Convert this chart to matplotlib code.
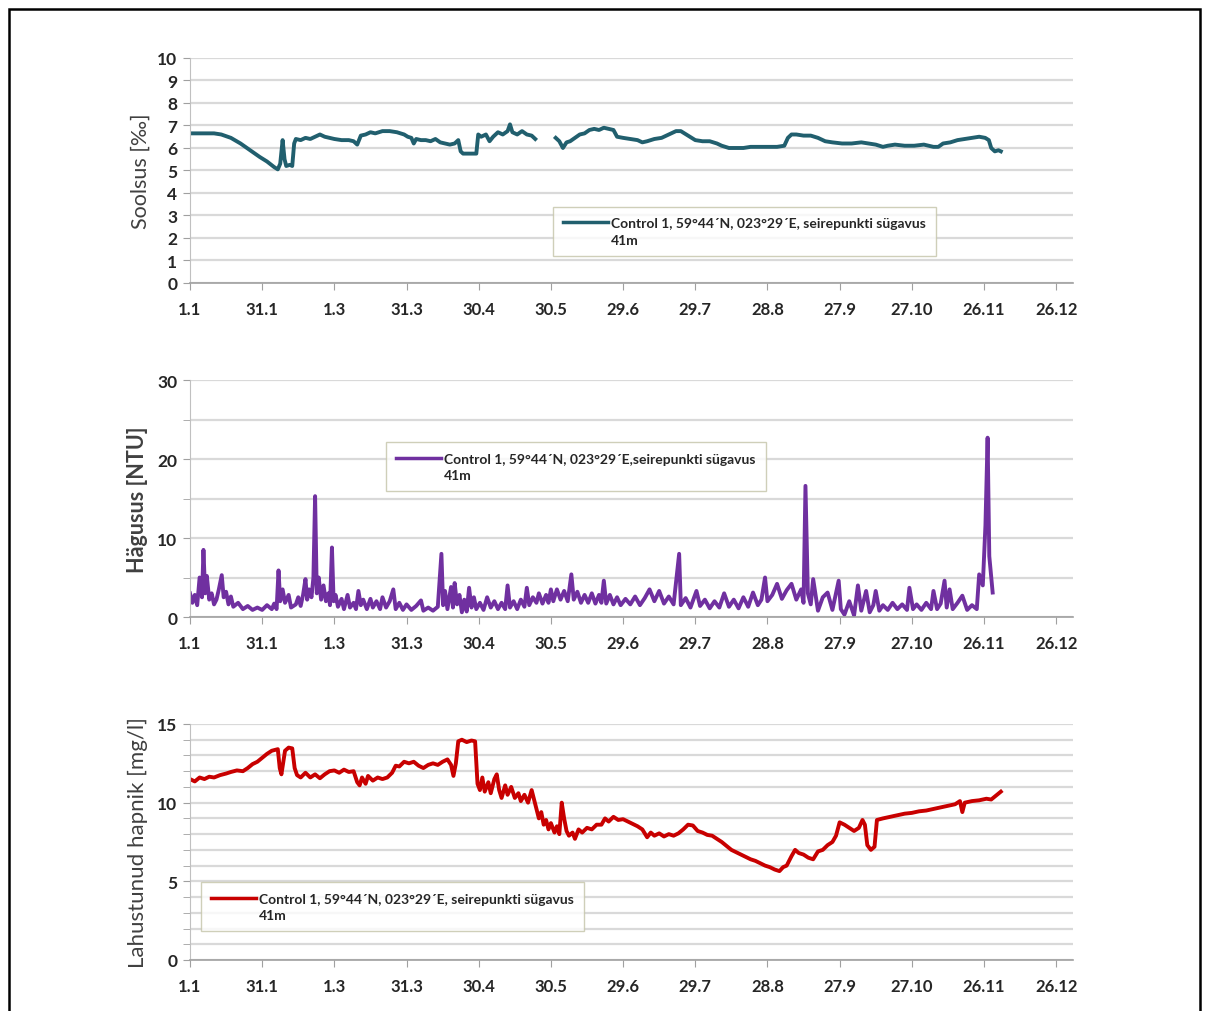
import numpy as np
import matplotlib
matplotlib.use("Agg")
from matplotlib import pyplot as plt
from matplotlib.lines import Line2D
from matplotlib.patches import Rectangle
from matplotlib.ticker import MultipleLocator

plt.rcParams["font.family"] = ["Lato", "DejaVu Sans"]

# x axis: days since 1 January, tick every 30 days
TICK_DAYS = list(range(0, 361, 30))
TICK_LABELS = ["1.1", "31.1", "1.3", "31.3", "30.4", "30.5", "29.6",
               "29.7", "28.8", "27.9", "27.10", "26.11", "26.12"]
LEGEND_LINE1 = "Control 1, 59°44´N, 023°29´E, seirepunkti sügavus"
LEGEND_LINE1_B = "Control 1, 59°44´N, 023°29´E,seirepunkti sügavus"
LEGEND_LINE2 = "41m"

# salinity (‰) as (day, value); nan marks the data gap in May
salinity = [
    (0, 6.65), (5, 6.65), (10, 6.65), (13, 6.6), (17, 6.45), (21, 6.2),
    (25, 5.9), (29, 5.6), (32, 5.4), (35, 5.15), (36.5, 5.05), (37.5, 5.3),
    (38.5, 6.35), (39.3, 5.5), (40, 5.2), (41.5, 5.25), (42.5, 5.2),
    (43.3, 6.2), (44, 6.4), (46, 6.35), (48, 6.45), (50, 6.4), (52, 6.5),
    (54, 6.6), (56, 6.5), (58, 6.45), (60, 6.4), (63, 6.35), (66, 6.35),
    (68, 6.3), (69.5, 6.15), (71, 6.55), (73, 6.6), (75, 6.7), (77, 6.65),
    (80, 6.75), (83, 6.75), (86, 6.7), (89, 6.6), (90.5, 6.5), (92, 6.45),
    (93, 6.2), (94, 6.4), (96, 6.35), (98, 6.35), (100, 6.3), (102, 6.4),
    (104, 6.25), (106, 6.2), (108, 6.15), (110, 6.2), (111.5, 6.35),
    (112.5, 5.85), (113.5, 5.75), (116, 5.75), (119, 5.75), (119.8, 6.6),
    (121, 6.5), (123, 6.6), (124.5, 6.3), (126, 6.5), (128, 6.7), (130, 6.6),
    (132, 6.75), (133, 7.05), (134, 6.7), (136, 6.6), (138, 6.75), (140, 6.6),
    (142, 6.55), (143.5, 6.4), (148, np.nan), (152, 6.45), (153.5, 6.3),
    (155, 6.0), (156.5, 6.25), (158, 6.3), (160, 6.45), (162, 6.6),
    (164, 6.65), (166, 6.8), (168, 6.85), (170, 6.8), (172, 6.9), (174, 6.85),
    (176, 6.8), (177.5, 6.5), (180, 6.45), (183, 6.4), (186, 6.35),
    (188, 6.25), (190, 6.3), (193, 6.4), (196, 6.45), (199, 6.6), (202, 6.75),
    (204, 6.75), (207, 6.55), (210, 6.35), (213, 6.3), (216, 6.3), (219, 6.2),
    (221, 6.1), (224, 6.0), (227, 6.0), (230, 6.0), (233, 6.05), (236, 6.05),
    (240, 6.05), (244, 6.05), (247, 6.1), (248.5, 6.45), (250, 6.6),
    (252, 6.6), (255, 6.55), (258, 6.55), (261, 6.45), (264, 6.3),
    (267, 6.25), (271, 6.2), (275, 6.2), (279, 6.25), (282, 6.2), (285, 6.15),
    (288, 6.05), (290, 6.1), (293, 6.15), (297, 6.1), (301, 6.1), (305, 6.15),
    (309, 6.05), (311, 6.05), (313, 6.2), (316, 6.25), (319, 6.35),
    (322, 6.4), (325, 6.45), (328, 6.5), (330.5, 6.45), (332, 6.35),
    (333, 6.0), (334.5, 5.85), (336, 5.9), (337, 5.85),
]

# turbidity (NTU) as (day, value)
turbidity = [
    (0, 3.0), (1, 1.8), (2, 2.8), (3, 1.5), (4, 5.0), (5, 2.5), (5.6, 8.5),
    (6.3, 3.0), (7, 5.2), (8, 2.2), (9, 3.0), (10, 1.6), (11, 2.2), (12, 3.5),
    (13.2, 5.3), (14, 2.5), (15, 3.2), (16, 1.6), (17, 2.6), (18, 1.3),
    (20, 1.8), (22, 1.0), (24, 1.4), (26, 0.9), (28, 1.2), (30, 0.9),
    (32, 1.5), (34, 1.0), (35, 1.7), (36, 1.0), (36.8, 5.9), (37.5, 2.0),
    (38.5, 3.5), (39.5, 1.8), (41, 2.8), (42, 1.2), (44, 1.6), (45, 2.5),
    (46, 1.4), (47, 2.8), (48, 4.8), (48.7, 2.2), (49.5, 3.5), (50.5, 2.5),
    (51.3, 5.0), (52, 15.3), (52.7, 3.0), (53.5, 5.0), (54.5, 2.2),
    (55.5, 4.0), (56.5, 2.0), (57.5, 3.0), (58.2, 1.5), (59, 8.8), (59.7, 2.0),
    (60.5, 2.8), (61.5, 1.3), (63, 2.3), (64, 1.0), (65.5, 2.8), (66.5, 1.2),
    (68, 1.8), (69, 1.0), (70, 3.3), (71, 1.5), (72, 2.2), (73.5, 1.0),
    (75, 2.3), (76, 1.2), (77.5, 2.0), (79, 1.0), (80, 2.5), (81.5, 1.2),
    (83, 2.0), (84.5, 3.5), (85.5, 1.0), (87, 1.8), (88.5, 0.9), (90, 1.6),
    (92, 0.9), (94, 1.4), (96, 2.1), (97, 0.8), (99, 1.2), (101, 0.8),
    (103, 1.3), (104.5, 8.0), (105.2, 1.5), (106, 3.3), (107, 1.0),
    (108.5, 3.8), (109.3, 1.2), (110, 4.3), (111, 1.6), (112, 2.8),
    (113, 0.6), (114, 2.2), (115, 0.7), (116, 3.7), (117, 1.2), (118, 2.5),
    (119, 1.0), (120.5, 1.8), (122, 0.9), (123.5, 2.5), (125, 1.2),
    (126.5, 2.0), (128, 1.0), (129.5, 1.8), (131, 1.0), (132, 4.0),
    (133, 1.2), (134.5, 2.0), (136, 1.0), (137.5, 2.2), (139, 1.3),
    (140, 3.7), (141, 1.5), (142.5, 2.5), (144, 1.8), (145, 3.0),
    (146.5, 1.7), (148, 2.8), (149, 1.8), (150, 3.5), (151, 2.0),
    (152.5, 3.5), (154, 2.2), (155.5, 3.3), (157, 2.0), (158.5, 5.4),
    (159.5, 2.2), (161, 3.2), (162.5, 1.8), (164, 2.8), (165.5, 1.8),
    (167, 3.0), (168.5, 1.7), (170, 2.8), (171, 1.8), (172, 4.6), (173, 1.7),
    (174.5, 2.8), (176, 1.6), (177.5, 2.5), (179, 1.5), (181, 2.3),
    (183, 1.6), (185, 2.6), (187, 1.5), (189, 2.4), (191, 3.5), (193, 2.0),
    (195, 3.3), (197, 1.7), (199, 2.6), (201, 1.6), (203.3, 8.0), (204, 1.5),
    (206, 2.4), (208, 1.2), (210.5, 3.3), (212, 1.4), (214, 2.2), (216, 1.1),
    (218, 2.0), (220, 1.2), (222, 3.0), (224, 1.3), (226, 2.2), (228, 1.1),
    (230, 2.5), (232, 1.3), (234, 3.1), (236, 1.5), (237.5, 2.2), (239, 5.0),
    (240, 2.0), (242, 2.8), (244, 4.2), (246, 2.3), (248, 3.4), (250, 4.2),
    (252, 2.2), (254, 3.5), (255, 1.8), (255.8, 16.6), (256.8, 3.0),
    (258, 1.6), (259, 4.8), (261, 0.8), (263, 2.5), (265, 3.1), (267, 0.9),
    (269.6, 4.6), (270.5, 1.0), (272, 0.3), (274, 2.0), (276, 0.2),
    (277.6, 4.0), (279, 0.8), (281, 3.3), (282.5, 0.6), (284, 1.5),
    (285, 3.3), (286.5, 0.8), (288, 1.5), (290, 0.9), (292, 1.8), (294, 1.0),
    (296, 1.6), (298, 0.9), (299, 3.7), (300.5, 1.0), (302, 1.6), (304, 0.9),
    (306, 1.8), (308, 1.0), (309, 3.3), (310.5, 1.0), (312, 1.7),
    (313.6, 4.6), (314.5, 1.2), (315.7, 3.5), (317, 1.0), (319, 1.8),
    (321, 2.7), (323, 0.9), (325, 1.5), (327, 1.0), (328, 5.4), (329.5, 4.0),
    (330.6, 11.6), (331.5, 22.7), (332.2, 7.7), (333.6, 3.1),
]

# dissolved oxygen (mg/l) as (day, value)
oxygen = [
    (0, 11.5), (2, 11.35), (4, 11.6), (6, 11.5), (8, 11.65), (10, 11.6),
    (12.5, 11.75), (15, 11.85), (17, 11.95), (19.5, 12.05), (22, 12.0),
    (24, 12.2), (26, 12.45), (28, 12.6), (30, 12.85), (32, 13.1), (34, 13.3),
    (36.5, 13.4), (37.3, 12.2), (38, 11.8), (38.8, 12.6), (39.5, 13.3),
    (41, 13.5), (42.5, 13.45), (43.5, 12.2), (44.5, 11.75), (46, 11.6),
    (48, 11.9), (50, 11.6), (52, 11.8), (54, 11.55), (56, 11.8), (58, 12.0),
    (60, 12.05), (62, 11.9), (64, 12.1), (66, 11.95), (68, 12.0),
    (69.5, 11.3), (70.5, 11.1), (71.5, 11.6), (73, 11.2), (74, 11.7),
    (76, 11.4), (78, 11.6), (80, 11.5), (82, 11.6), (84, 11.9), (85.5, 12.35),
    (87, 12.3), (89, 12.6), (91, 12.5), (93, 12.6), (95, 12.35), (97, 12.2),
    (99, 12.4), (101, 12.5), (103, 12.4), (105, 12.6), (107, 12.75),
    (108.5, 12.4), (109.5, 11.7), (110.5, 12.5), (111.5, 13.9), (113, 14.0),
    (115, 13.85), (117, 13.95), (118.5, 13.9), (119.5, 11.2), (120.5, 10.8),
    (121.5, 11.6), (122.5, 10.7), (124, 11.3), (125, 10.6), (126.5, 11.5),
    (127.5, 11.8), (128.5, 10.8), (129.5, 10.3), (131, 11.1), (132, 10.5),
    (133.5, 11.0), (135, 10.3), (136.5, 10.6), (137.5, 10.1), (139, 10.5),
    (140.5, 10.0), (142, 10.8), (143, 10.2), (144, 9.6), (145, 9.0),
    (146, 9.4), (147, 8.6), (148, 8.9), (149, 8.3), (150, 8.7), (151.5, 8.1),
    (152.5, 8.5), (153.5, 8.0), (154.5, 10.0), (155.5, 9.0), (156.5, 8.2),
    (157.5, 7.9), (159, 8.1), (160, 7.7), (161.5, 8.3), (163, 8.1),
    (165, 8.4), (167, 8.3), (169, 8.6), (171, 8.6), (172.5, 9.0), (174, 8.8),
    (176, 9.1), (178, 8.9), (180, 8.95), (182, 8.8), (184, 8.65), (186, 8.5),
    (188, 8.3), (190, 7.8), (191.5, 8.1), (193, 7.9), (195, 8.05),
    (197, 7.85), (199, 8.0), (201, 7.9), (203, 8.05), (205, 8.3), (207, 8.6),
    (209, 8.55), (211, 8.2), (213, 8.1), (215, 7.95), (217, 7.9), (219, 7.7),
    (221, 7.5), (223, 7.25), (225, 7.0), (227, 6.85), (229, 6.7), (231, 6.55),
    (233, 6.4), (235, 6.3), (237, 6.15), (239, 6.0), (241, 5.9), (243, 5.75),
    (245, 5.65), (246.5, 5.9), (248, 6.0), (250, 6.6), (251.5, 7.0),
    (253, 6.8), (255, 6.7), (257, 6.5), (259, 6.4), (261, 6.9), (263, 7.0),
    (265, 7.3), (267, 7.5), (268.5, 7.9), (270, 8.75), (272, 8.6), (274, 8.4),
    (276, 8.2), (278, 8.4), (279.5, 8.9), (280.5, 8.6), (281.5, 7.3),
    (283, 7.0), (284.5, 7.2), (285.5, 8.9), (288, 9.0), (291, 9.1),
    (294, 9.2), (297, 9.3), (300, 9.35), (303, 9.45), (306, 9.5), (309, 9.6),
    (312, 9.7), (315, 9.8), (318, 9.9), (320, 10.1), (321, 9.4), (322, 10.0),
    (325, 10.1), (328, 10.15), (331, 10.25), (333, 10.2), (335, 10.45),
    (337, 10.7),
]

TEAL = "#215f6e"
PURPLE = "#7030a0"
RED = "#c80000"
GRID_COLOR = "#d9d9d9"
LABEL_COLOR = "#404040"
TICK_FONT = dict(fontsize=12, fontweight="bold", color="#262626")


def style_axes(ax, ymax, major, minor=None):
    """Excel-like look: horizontal grid, gray axis lines, bold tick labels"""
    ax.set_xlim(0, 367)
    ax.set_ylim(0, ymax)
    ax.set_xticks(TICK_DAYS)
    ax.set_xticklabels(TICK_LABELS, **TICK_FONT)
    ax.yaxis.set_major_locator(MultipleLocator(major))
    if minor:
        ax.yaxis.set_minor_locator(MultipleLocator(minor))
        ax.grid(True, which="minor", axis="y", color=GRID_COLOR, lw=1.6)
    ax.grid(True, which="major", axis="y", color=GRID_COLOR, lw=1.6)
    ax.set_axisbelow(True)
    for lbl in ax.get_yticklabels():
        lbl.set_fontsize(12.5)
        lbl.set_fontweight("bold")
        lbl.set_color("#262626")
    ax.spines["top"].set_visible(False)
    ax.spines["right"].set_visible(False)
    ax.spines["left"].set_color("#c0c0c0")
    ax.spines["bottom"].set_color("#a0a0a0")
    ax.spines["bottom"].set_linewidth(1.2)
    ax.tick_params(axis="both", which="both", direction="out", length=5,
                   color="#a0a0a0", pad=4)
    ax.tick_params(axis="x", pad=8)


def add_legend(ax, color, line1, anchor):
    handles = [Line2D([], [], color=color, lw=2.5), Line2D([], [], color="none")]
    leg = ax.legend(handles, [line1, LEGEND_LINE2], loc="upper left",
                    bbox_to_anchor=anchor, borderaxespad=0, frameon=True,
                    fancybox=False, handlelength=3.2, handletextpad=0.2,
                    labelspacing=0.3, borderpad=0.75,
                    prop=dict(size=10, weight="bold"))
    leg.get_frame().set_edgecolor("#c4c4a8")
    leg.get_frame().set_linewidth(1.0)
    for t in leg.get_texts():
        t.set_color("#262626")


def plot_series(ax, pairs, color, lw):
    days, vals = zip(*pairs)
    ax.plot(days, vals, color=color, lw=lw)


fig = plt.figure(figsize=(12.07, 10.12), dpi=100)
ax1 = fig.add_axes([0.1574, 0.7194, 0.7316, 0.2223])
ax2 = fig.add_axes([0.1574, 0.3893, 0.7316, 0.2342])
ax3 = fig.add_axes([0.1574, 0.0504, 0.7316, 0.2332])

plot_series(ax1, salinity, TEAL, 2.8)
style_axes(ax1, 10, 1)
ax1.set_ylabel("Soolsus [‰]", fontsize=15.5, color=LABEL_COLOR, labelpad=5)
add_legend(ax1, TEAL, LEGEND_LINE1, (0.411, 0.338))

plot_series(ax2, turbidity, PURPLE, 2.8)
style_axes(ax2, 30, 10, 5)
ax2.set_ylabel("Hägusus [NTU]", fontsize=15.5, fontweight="bold",
               color=LABEL_COLOR, labelpad=7)
add_legend(ax2, PURPLE, LEGEND_LINE1_B, (0.222, 0.738))

plot_series(ax3, oxygen, RED, 2.8)
style_axes(ax3, 15, 5, 1)
ax3.set_ylabel("Lahustunud hapnik [mg/l]", fontsize=16, color=LABEL_COLOR,
               labelpad=7)
add_legend(ax3, RED, LEGEND_LINE1, (0.0125, 0.33))

# black frame around the whole figure (bottom edge falls outside the image)
fig.add_artist(Rectangle((9 / 1207, -0.02), 1191 / 1207, 1.02 - 10 / 1012,
                         transform=fig.transFigure, fill=False,
                         edgecolor="black", linewidth=1.8))

fig.savefig("out.png", dpi=100)
